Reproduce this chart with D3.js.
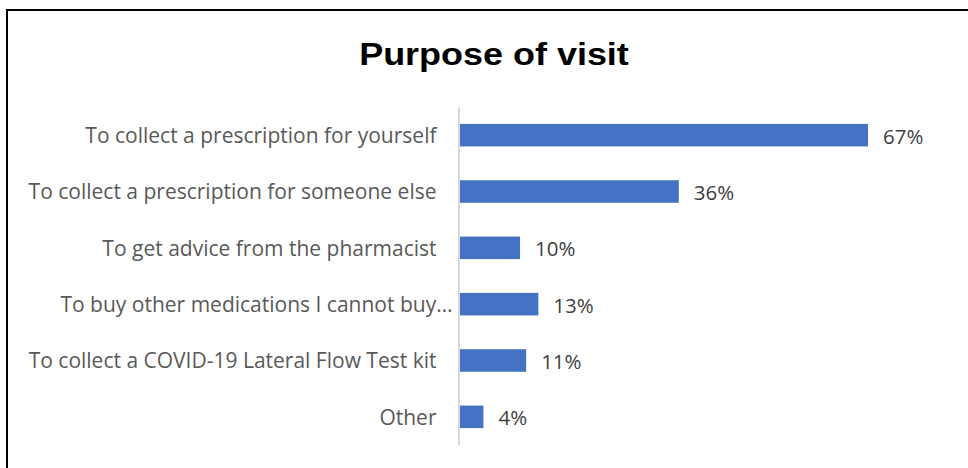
<!DOCTYPE html>
<html>
<head>
<meta charset="utf-8">
<script src="https://cdn.jsdelivr.net/npm/d3@7"></script>
<style>
  body { margin: 0; background: #fff; }
  text { font-family: "Open Sans", sans-serif; }
</style>
</head>
<body>
<div id="chart"></div>
<script>
// chart data
var categories = [
  "To collect a prescription for yourself",
  "To collect a prescription for someone else",
  "To get advice from the pharmacist",
  "To buy other medications I cannot buy\u2026",
  "To collect a COVID-19 Lateral Flow Test kit",
  "Other"
];
var values = [67, 36, 10, 13, 11, 4];
var valueLabels = ["67%", "36%", "10%", "13%", "11%", "4%"];

var width = 968, height = 468;

var svg = d3.select("#chart")
  .append("svg")
  .attr("width", width)
  .attr("height", height);

// frame lines (top and left only)
svg.append("line")
  .attr("x1", 7).attr("x2", width)
  .attr("y1", 10).attr("y2", 10)
  .attr("stroke", "#000").attr("stroke-width", 2);
svg.append("line")
  .attr("x1", 7).attr("x2", 7)
  .attr("y1", 9).attr("y2", height)
  .attr("stroke", "#000").attr("stroke-width", 2);

// title, a bit stretched sideways like the reference
svg.append("text")
  .attr("transform", "translate(494,65) scale(1.16,1)")
  .attr("text-anchor", "middle")
  .style("font-family", "'Liberation Sans', Arial, sans-serif")
  .style("font-weight", "bold")
  .style("font-size", "31px")
  .attr("fill", "#000")
  .text("Purpose of visit");

var x = d3.scaleLinear()
  .domain([0, 100])
  .range([459, 459 + 610.5]);

var y = d3.scaleBand()
  .domain(categories)
  .range([107, 445])
  .paddingInner(0.6)
  .paddingOuter(0.3);

// bars
svg.selectAll("rect.bar")
  .data(values)
  .enter().append("rect")
  .attr("class", "bar")
  .attr("x", x(0))
  .attr("y", function(d, i) { return y(categories[i]); })
  .attr("width", function(d) { return x(d) - x(0); })
  .attr("height", y.bandwidth())
  .attr("fill", "#4472c4");

// category axis
var yAxis = svg.append("g")
  .attr("transform", "translate(" + 458.5 + ",0)")
  .call(d3.axisLeft(y).tickSize(0).tickPadding(22));

yAxis.select(".domain")
  .attr("stroke", "#d9d9d9")
  .attr("stroke-width", 2);
yAxis.selectAll("text")
  .style("font-family", "'Open Sans', sans-serif")
  .style("font-size", "21px")
  .attr("dy", "0.38em")
  .attr("fill", "#595959");

// the truncated label sits closer to the axis
yAxis.selectAll("text")
  .filter(function(d) { return d.slice(-1) == "\u2026"; })
  .attr("x", -6);

// value labels
svg.selectAll("text.val")
  .data(values)
  .enter().append("text")
  .attr("class", "val")
  .attr("x", function(d) { return x(d) + 15; })
  .attr("y", function(d, i) { return y(categories[i]) + y.bandwidth() / 2; })
  .attr("dy", "0.42em")
  .style("font-size", "20.5px")
  .attr("fill", "#404040")
  .text(function(d, i) { return valueLabels[i]; });
</script>
</body>
</html>
